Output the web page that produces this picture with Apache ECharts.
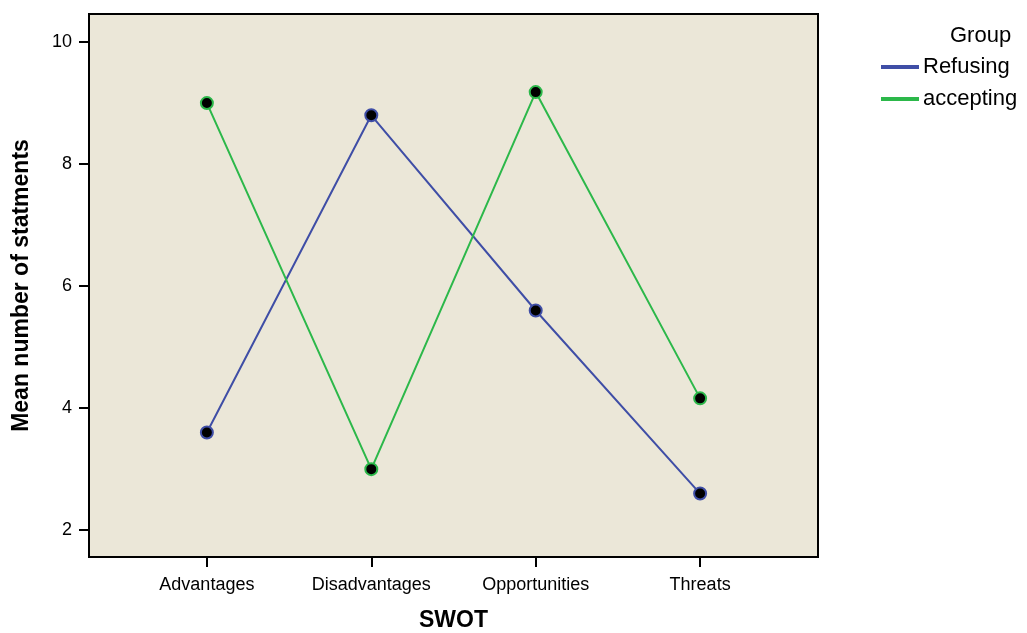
<!DOCTYPE html>
<html>
<head>
<meta charset="utf-8">
<script src="https://cdn.jsdelivr.net/npm/echarts@6/dist/echarts.min.js"></script>
<style>
  html, body { margin: 0; padding: 0; background: #fff; }
  #chart { width: 1027px; height: 633px; }
</style>
</head>
<body>
<div id="chart"></div>
<script>
const categories = ['Advantages', 'Disadvantages', 'Opportunities', 'Threats'];
const refusing = [3.6, 8.8, 5.6, 2.6];
const accepting = [9.0, 3.0, 9.18, 4.16];
const yTicks = [2, 4, 6, 8, 10];

const chart = echarts.init(document.getElementById('chart'));

const toPoints = (vals) => vals.map((v, i) => [i, v]);
const font = 'Liberation Sans, Arial, sans-serif';

const options = {
  animation: false,
  textStyle: { fontFamily: font },
  grid: {
    left: 89, top: 14, right: 209, bottom: 76,
    outerBoundsMode: 'none',
    containLabel: false,
    show: true,
    backgroundColor: '#ebe7d8',
    borderColor: '#000',
    borderWidth: 2
  },
  title: {
    text: 'Group',
    left: 945, top: 20,
    textStyle: { fontFamily: font, fontSize: 22, fontWeight: 'normal', color: '#000' }
  },
  legend: {
    orient: 'vertical',
    left: 876, top: 51,
    itemGap: 10,
    itemWidth: 36, itemHeight: 2,
    icon: 'rect',
    textStyle: { fontFamily: font, fontSize: 22, color: '#000', padding: [0, 0, 0, 0] },
    data: ['Refusing', 'accepting']
  },
  xAxis: {
    type: 'value',
    min: -0.717, max: 3.717,
    name: 'SWOT',
    nameLocation: 'middle',
    nameGap: 52,
    nameTextStyle: { fontFamily: font, fontSize: 23, fontWeight: 'bold', color: '#000' },
    axisLine: { show: true, onZero: false, lineStyle: { color: '#000', width: 2 } },
    axisTick: { show: true, customValues: [0, 1, 2, 3], length: 10, lineStyle: { color: '#000', width: 2 } },
    axisLabel: {
      customValues: [0, 1, 2, 3],
      formatter: (v) => categories[Math.round(v)],
      fontFamily: font, fontSize: 18, color: '#000', margin: 19
    },
    splitLine: { show: false }
  },
  yAxis: {
    type: 'value',
    min: 1.56, max: 10.46,
    name: 'Mean number of statments',
    nameLocation: 'middle',
    nameGap: 56,
    nameTextStyle: { fontFamily: font, fontSize: 23, fontWeight: 'bold', color: '#000' },
    axisLine: { show: true, onZero: false, lineStyle: { color: '#000', width: 2 } },
    axisTick: { show: true, customValues: yTicks, length: 10, lineStyle: { color: '#000', width: 2 } },
    axisLabel: {
      customValues: yTicks,
      fontFamily: font, fontSize: 18, color: '#000', margin: 17
    },
    splitLine: { show: false }
  },
  series: [
    {
      name: 'Refusing',
      type: 'line',
      data: toPoints(refusing),
      color: '#3f4ea6',
      lineStyle: { color: '#3f4ea6', width: 2 },
      symbol: 'circle',
      symbolSize: 12,
      itemStyle: { color: '#000', borderColor: '#3f4ea6', borderWidth: 2 }
    },
    {
      name: 'accepting',
      type: 'line',
      data: toPoints(accepting),
      color: '#2cb84a',
      lineStyle: { color: '#2cb84a', width: 2 },
      symbol: 'circle',
      symbolSize: 12,
      itemStyle: { color: '#000', borderColor: '#2cb84a', borderWidth: 2 }
    }
  ]
};

chart.setOption(options);
</script>
</body>
</html>
